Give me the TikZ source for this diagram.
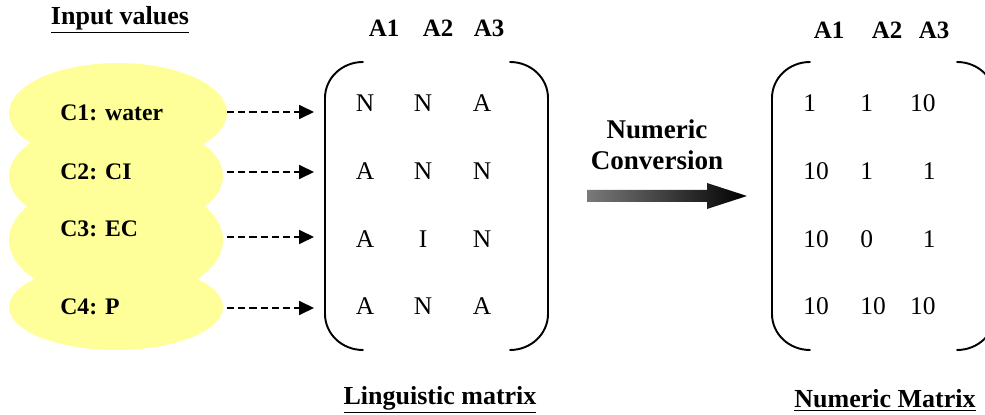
\documentclass[tikz,border=0pt]{standalone}
\usepackage{fontspec}
\setmainfont{Liberation Serif}
\usetikzlibrary{arrows.meta}

\definecolor{cloud}{HTML}{FFFF99}
\definecolor{shaftgrey}{HTML}{7A7A7A}

\begin{document}
\begin{tikzpicture}[
  x=0.02cm, y=-0.02cm,
  line join=round, line cap=round,
  bracket/.style={line width=1.1pt},
  feed/.style={line width=0.8pt, line cap=butt, dash pattern=on 4pt off 2.4pt,
    -{Triangle[length=8.5pt,width=8pt]}},
  crit/.style={font=\fontsize{13.5}{16}\selectfont\bfseries, anchor=west, inner sep=0pt},
  entry/.style={font=\fontsize{14.5}{17}\selectfont, inner sep=0pt},
  head/.style={font=\fontsize{14.2}{17}\selectfont\bfseries, inner sep=0pt},
  title/.style={font=\fontsize{14.8}{17}\selectfont\bfseries, inner sep=0pt},
]
\useasboundingbox (0,0) rectangle (985,415);

% ── the four inputs, stacked clouds ───────────────────────────────────────
\node[title] (input) at (120,20) {\underline{Input values}};
\fill[cloud] (118,113) ellipse [x radius=2.18cm, y radius=1.0cm];
\fill[cloud] (116,176) ellipse [x radius=2.14cm, y radius=1.1cm];
\fill[cloud] (116,240) ellipse [x radius=2.14cm, y radius=1.2cm];
\fill[cloud] (116,307) ellipse [x radius=2.14cm, y radius=0.86cm];

\node[crit] (c1) at (60,113) {C1: water};
\node[crit] (c2) at (60,172) {C2: CI};
\node[crit] (c3) at (60,229) {C3: EC};
\node[crit] (c4) at (60,307) {C4: P};

% each input feeds one row
\foreach \i/\y in {1/112, 2/172, 3/237, 4/308} {
  \coordinate (s\i) at (227,\y);
  \coordinate (t\i) at (314,\y);
  \draw[feed] (s\i) -- (t\i);
}

% ── the two pairs of brackets ─────────────────────────────────────────────
\foreach \l/\r in {325/548, 772/995} {
  \draw[bracket] (\l+38,62) .. controls (\l+17,62) and (\l,78) .. (\l,98)
    -- (\l,314) .. controls (\l,334) and (\l+17,350) .. (\l+38,350);
  \draw[bracket] (\r-38,62) .. controls (\r-17,62) and (\r,78) .. (\r,98)
    -- (\r,314) .. controls (\r,334) and (\r-17,350) .. (\r-38,350);
}

% ── linguistic matrix ─────────────────────────────────────────────────────
\node[head] (la1) at (384,28) {A1};
\node[head] (la2) at (438,28) {A2};
\node[head] (la3) at (489,28) {A3};
\foreach \r/\y/\a/\b/\c in {1/103/N/N/A, 2/171/A/N/N, 3/239/A/I/N, 4/306/A/N/A} {
  \node[entry] (l\r a) at (365,\y) {\a};
  \node[entry] (l\r b) at (423,\y) {\b};
  \node[entry] (l\r c) at (482,\y) {\c};
}
\node[title] (ltitle) at (440,400) {\underline{Linguistic matrix}};

% ── the conversion arrow ──────────────────────────────────────────────────
\node[title, align=center, font=\fontsize{15.4}{17.5}\selectfont\bfseries] (conv) at (657,145)
  {Numeric\\Conversion};
\shade[left color=shaftgrey, right color=black]
  (587,190) -- (707,190) -- (707,183) -- (747,196) -- (707,209) -- (707,202) -- (587,202) -- cycle;

% ── numeric matrix ────────────────────────────────────────────────────────
\node[head] (na1) at (829,30) {A1};
\node[head] (na2) at (887,30) {A2};
\node[head] (na3) at (934,30) {A3};
\foreach \r/\y/\a/\b/\c in {1/103/1/1/10, 2/171/10/1/1, 3/239/10/0/1, 4/306/10/10/10} {
  \node[entry, anchor=west] (n\r a) at (803,\y) {\a};
  \node[entry, anchor=west] (n\r b) at (860,\y) {\b};
  \node[entry, anchor=east] (n\r c) at (936,\y) {\c};
}
\node[title] (ntitle) at (885,400) {\underline{Numeric Matrix}};

\end{tikzpicture}
\end{document}
